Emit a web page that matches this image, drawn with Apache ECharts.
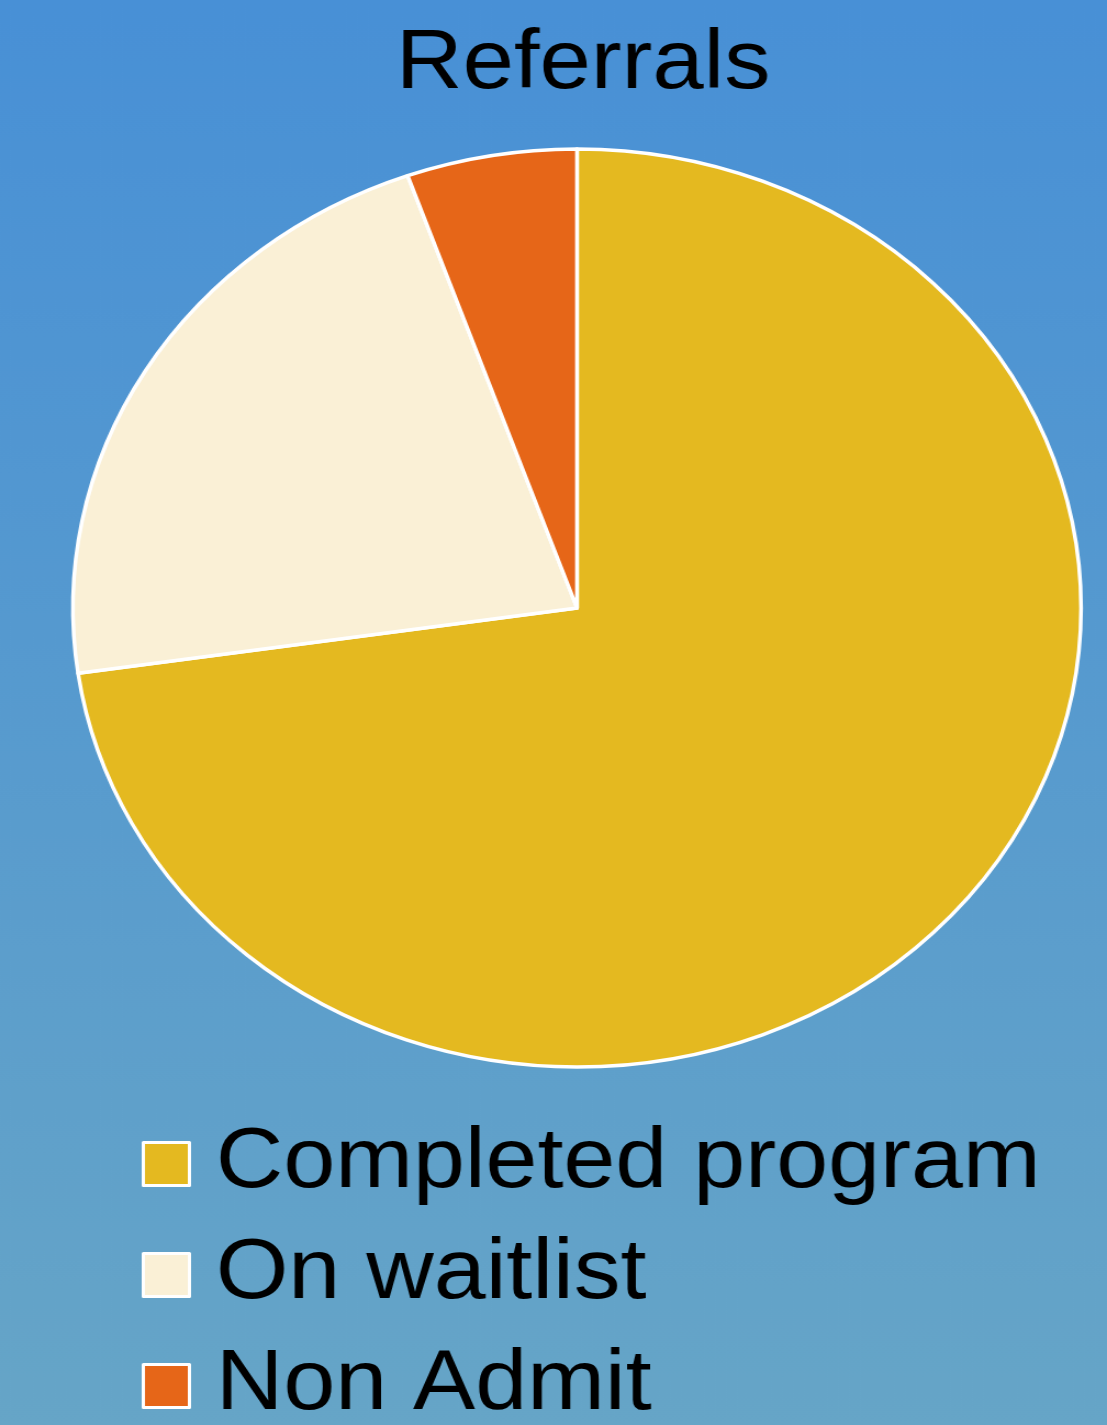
<!DOCTYPE html>
<html>
<head>
<meta charset="utf-8">
<script src="https://cdn.jsdelivr.net/npm/echarts@6/dist/echarts.min.js"></script>
<style>
html,body{margin:0;padding:0;overflow:hidden;width:1107px;height:1425px;background:#5a9bcc;}
#chart{width:1008px;height:1425px;transform:scaleX(1.0982);transform-origin:0 0;}
</style>
</head>
<body>
<div id="chart"></div>
<script>
const categories = ["Completed program", "On waitlist", "Non Admit"];
const values = [40, 12, 3];
const colors = ["#E4B920", "#FAF0D6", "#E66618"];
const titleText = "Referrals";

const chart = echarts.init(document.getElementById('chart'), null, {renderer: 'canvas'});
chart.setOption({
  animation: false,
  backgroundColor: {
    type: 'linear', x: 0, y: 0, x2: 0, y2: 1,
    colorStops: [{offset: 0, color: '#4890D6'}, {offset: 1, color: '#66A5C7'}]
  },
  title: {
    text: titleText,
    left: 526,
    textAlign: 'center',
    top: 18,
    textStyle: {fontFamily: 'Liberation Sans', fontSize: 84, fontWeight: 'normal', color: '#000'}
  },
  legend: {
    type: 'plain',
    orient: 'vertical',
    left: 124,
    top: 1114,
    height: 420,
    itemWidth: 42,
    itemHeight: 43,
    itemGap: 21,
    icon: 'rect',
    data: categories,
    itemStyle: {borderColor: '#fff', borderWidth: 3},
    textStyle: {fontFamily: 'Liberation Sans', fontSize: 85, lineHeight: 90, color: '#000', padding: [0, 0, 0, 19]}
  },
  series: [{
    type: 'pie',
    center: [525.4, 608],
    radius: [0, 459],
    startAngle: 90,
    clockwise: true,
    label: {show: false},
    labelLine: {show: false},
    emphasis: {disabled: true},
    itemStyle: {borderColor: '#fff', borderWidth: 3.5},
    data: categories.map((c, i) => ({name: c, value: values[i], itemStyle: {color: colors[i]}}))
  }]
});
</script>
</body>
</html>
